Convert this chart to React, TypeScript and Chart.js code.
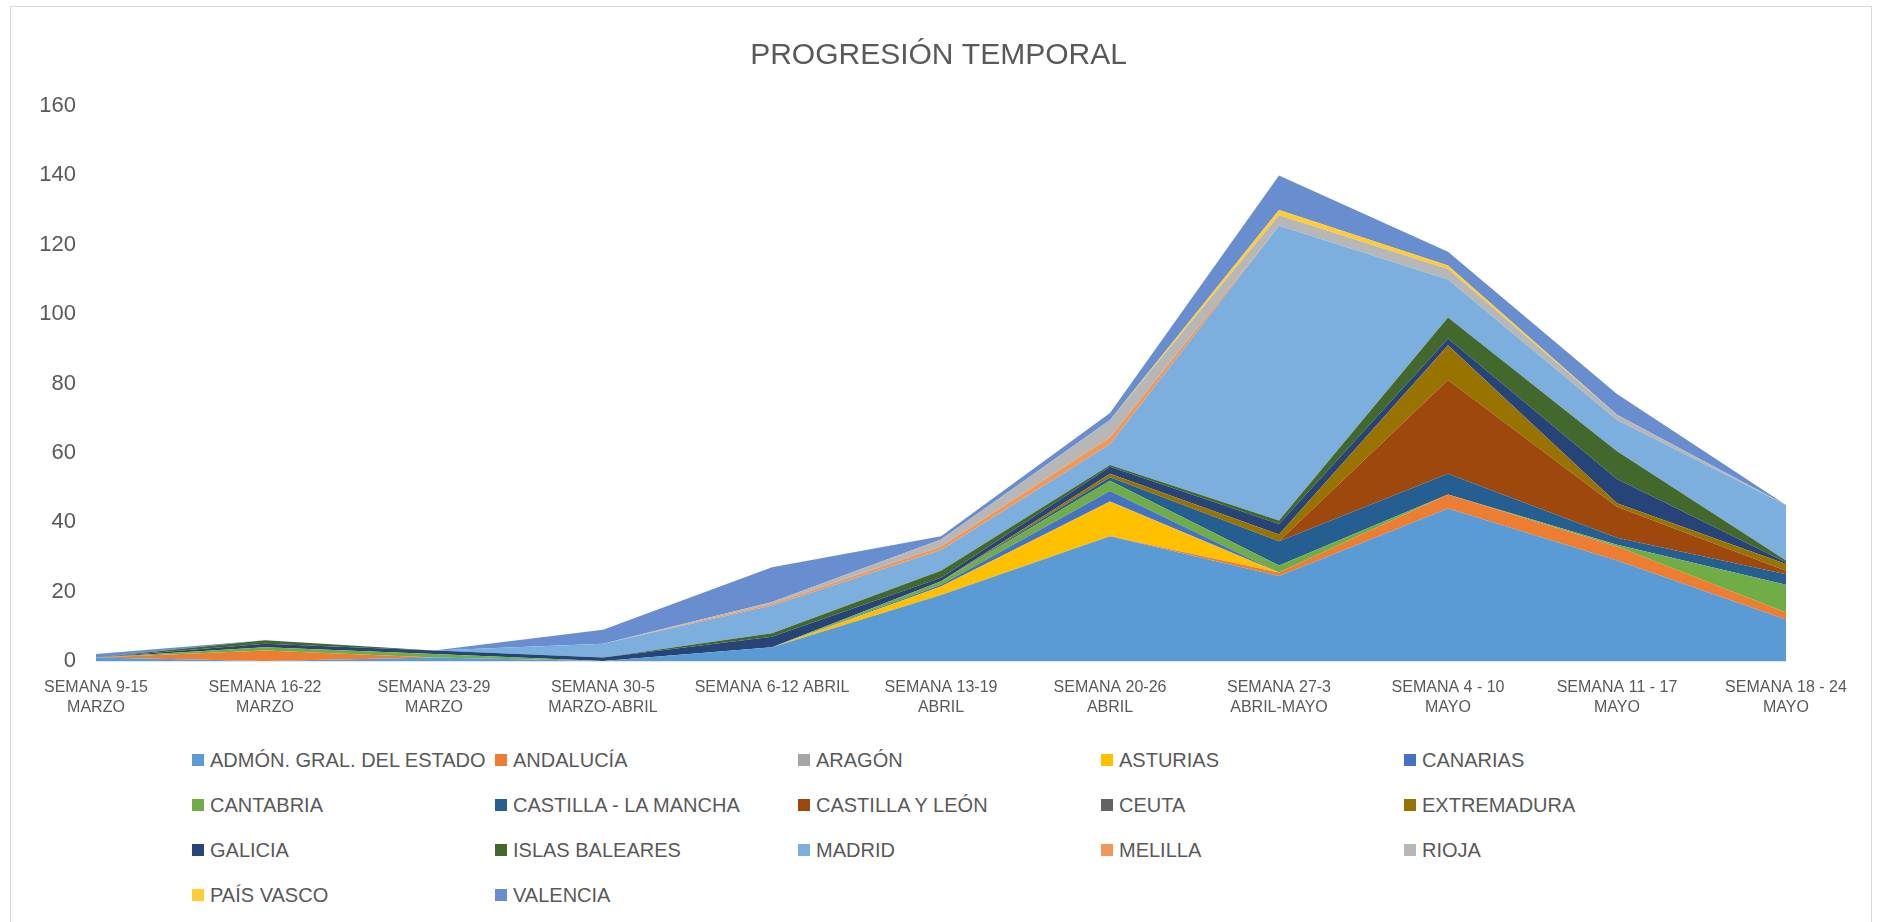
import React, { useEffect, useRef } from "react";
import { Chart, registerables } from "chart.js";

Chart.register(...registerables);

const FONT = '"Liberation Sans Narrow", "Liberation Sans", Arial, sans-serif';
const TEXT = "#595959";

const categories: string[][] = [
  ["SEMANA 9-15", "MARZO"],
  ["SEMANA 16-22", "MARZO"],
  ["SEMANA 23-29", "MARZO"],
  ["SEMANA 30-5", "MARZO-ABRIL"],
  ["SEMANA 6-12 ABRIL"],
  ["SEMANA 13-19", "ABRIL"],
  ["SEMANA 20-26", "ABRIL"],
  ["SEMANA 27-3", "ABRIL-MAYO"],
  ["SEMANA 4 - 10", "MAYO"],
  ["SEMANA 11 - 17", "MAYO"],
  ["SEMANA 18 - 24", "MAYO"],
];

const seriesNames = [
  "ADMÓN. GRAL. DEL ESTADO",
  "ANDALUCÍA",
  "ARAGÓN",
  "ASTURIAS",
  "CANARIAS",
  "CANTABRIA",
  "CASTILLA - LA MANCHA",
  "CASTILLA Y LEÓN",
  "CEUTA",
  "EXTREMADURA",
  "GALICIA",
  "ISLAS BALEARES",
  "MADRID",
  "MELILLA",
  "RIOJA",
  "PAÍS VASCO",
  "VALENCIA",
];

const seriesColors = [
  "#5B9BD5",
  "#ED7D31",
  "#A5A5A5",
  "#FFC000",
  "#4472C4",
  "#70AD47",
  "#255E91",
  "#9E480E",
  "#636363",
  "#997300",
  "#264478",
  "#43682B",
  "#7CAFDD",
  "#F1975A",
  "#B7B7B7",
  "#FFCD33",
  "#698ED0",
];

const admon = [1, 0, 1, 0, 4, 19, 36, 24.5, 44, 29, 12];
const andalucia = [0, 3, 0, 0, 0, 0, 0, 1, 4, 4, 2];
const aragon = [0, 0, 0, 0, 0, 0, 0, 0, 0, 0, 0];
const asturias = [0, 0, 0, 0, 0, 2.5, 10, 0, 0, 0, 0];
const canarias = [0, 0, 0, 0, 0, 0.5, 3, 0, 0, 0, 0];
const cantabria = [0, 1, 1, 0, 0, 1, 3, 2, 0, 0.5, 8];
const castillaLaMancha = [0, 0, 0, 0, 0, 0, 1, 7, 6, 2, 3];
const castillaYLeon = [0, 0, 0, 0, 0, 0, 0, 0, 27, 9, 1];
const ceuta = [0, 0, 0, 0, 0, 0, 0, 0, 0, 0, 0];
const extremadura = [0, 0, 0, 0, 0, 0, 1, 2, 10, 1, 2];
const galicia = [0, 1, 1, 1, 3, 1, 2, 3, 2, 7, 0.5];
const islasBaleares = [0, 1, 0, 0, 1, 2, 0.5, 1, 6, 8, 0.5];
const madrid = [0, 0, 0, 4, 8, 6, 6, 85, 11, 9, 16];
const melilla = [0, 0, 0, 0, 0.5, 1, 2, 0, 0, 0, 0];
const rioja = [0, 0, 0, 0, 0.5, 2, 5, 3, 3, 1.5, 0];
const paisVasco = [0, 0, 0, 0, 0, 0, 0, 1.5, 1, 0, 0];
const valencia = [1, 0, 0, 4, 10, 1, 2, 10, 4, 6, 0];

const seriesValues = [
  admon,
  andalucia,
  aragon,
  asturias,
  canarias,
  cantabria,
  castillaLaMancha,
  castillaYLeon,
  ceuta,
  extremadura,
  galicia,
  islasBaleares,
  madrid,
  melilla,
  rioja,
  paisVasco,
  valencia,
];

const yTicks = [0, 20, 40, 60, 80, 100, 120, 140, 160];

export default function App() {
  const canvasRef = useRef<HTMLCanvasElement | null>(null);

  useEffect(() => {
    const canvas = canvasRef.current;
    if (!canvas) return;
    const chart = new Chart(canvas, {
      type: "line",
      data: {
        labels: categories,
        datasets: seriesNames.map((name, i) => ({
          label: name,
          data: seriesValues[i],
          backgroundColor: seriesColors[i],
          borderColor: seriesColors[i],
          borderWidth: 0,
          pointRadius: 0,
          pointHoverRadius: 0,
          tension: 0,
          fill: i === 0 ? "origin" : "-1",
          yAxisID: "y",
        })),
      },
      options: {
        responsive: false,
        animation: false,
        events: [],
        layout: { padding: { left: 0, right: 0, top: 0, bottom: 0 } },
        plugins: {
          legend: { display: false },
          tooltip: { enabled: false },
          title: {
            display: true,
            text: "PROGRESIÓN TEMPORAL",
            color: TEXT,
            font: { family: FONT, size: 30, weight: "normal", lineHeight: 1.2 },
            padding: { top: 38, bottom: 32 },
          },
        },
        scales: {
          x: {
            offset: false,
            grid: { display: false, drawTicks: false },
            border: { display: true, color: "#E3E3E3", width: 1 },
            ticks: {
              color: TEXT,
              font: { family: FONT, size: 16, lineHeight: 1.25 },
              padding: 17,
              maxRotation: 0,
              minRotation: 0,
              autoSkip: false,
            },
            afterFit: (scale: any) => {
              scale.height = 69;
            },
          },
          y: {
            stacked: true,
            min: 0,
            max: 160,
            grid: { display: false, drawTicks: false },
            border: { display: false },
            afterBuildTicks: (scale: any) => {
              scale.ticks = yTicks.map((v) => ({ value: v }));
            },
            ticks: {
              color: TEXT,
              font: { family: FONT, size: 22 },
              padding: 20,
            },
            afterFit: (scale: any) => {
              scale.width = 96;
            },
          },
          yRight: {
            position: "right",
            min: 0,
            max: 160,
            grid: { display: false, drawTicks: false },
            border: { display: false },
            ticks: { display: false },
            afterFit: (scale: any) => {
              scale.width = 91;
            },
          },
        },
      },
    });
    return () => chart.destroy();
  }, []);

  return (
    <div
      style={{
        position: "absolute",
        left: 0,
        top: 0,
        width: 1877,
        height: 922,
        overflow: "hidden",
        background: "#ffffff",
        fontFamily: FONT,
      }}
    >
      <div
        style={{
          position: "absolute",
          left: 10,
          top: 6,
          width: 1860,
          height: 940,
          border: "1px solid #D9D9D9",
        }}
      />
      <canvas
        ref={canvasRef}
        width={1877}
        height={730}
        style={{ position: "absolute", left: 0, top: 0, width: 1877, height: 730 }}
      />
      {seriesNames.map((name, i) => {
        const row = Math.floor(i / 5);
        const col = i % 5;
        return (
          <div
            key={name}
            style={{
              position: "absolute",
              left: 192 + col * 303,
              top: 760 + row * 45 - 14,
              height: 28,
              display: "flex",
              alignItems: "center",
              whiteSpace: "nowrap",
              color: TEXT,
              fontSize: 20,
              lineHeight: "28px",
            }}
          >
            <span
              style={{
                display: "inline-block",
                width: 12,
                height: 12,
                background: seriesColors[i],
                marginRight: 6,
              }}
            />
            <span>{name}</span>
          </div>
        );
      })}
    </div>
  );
}
